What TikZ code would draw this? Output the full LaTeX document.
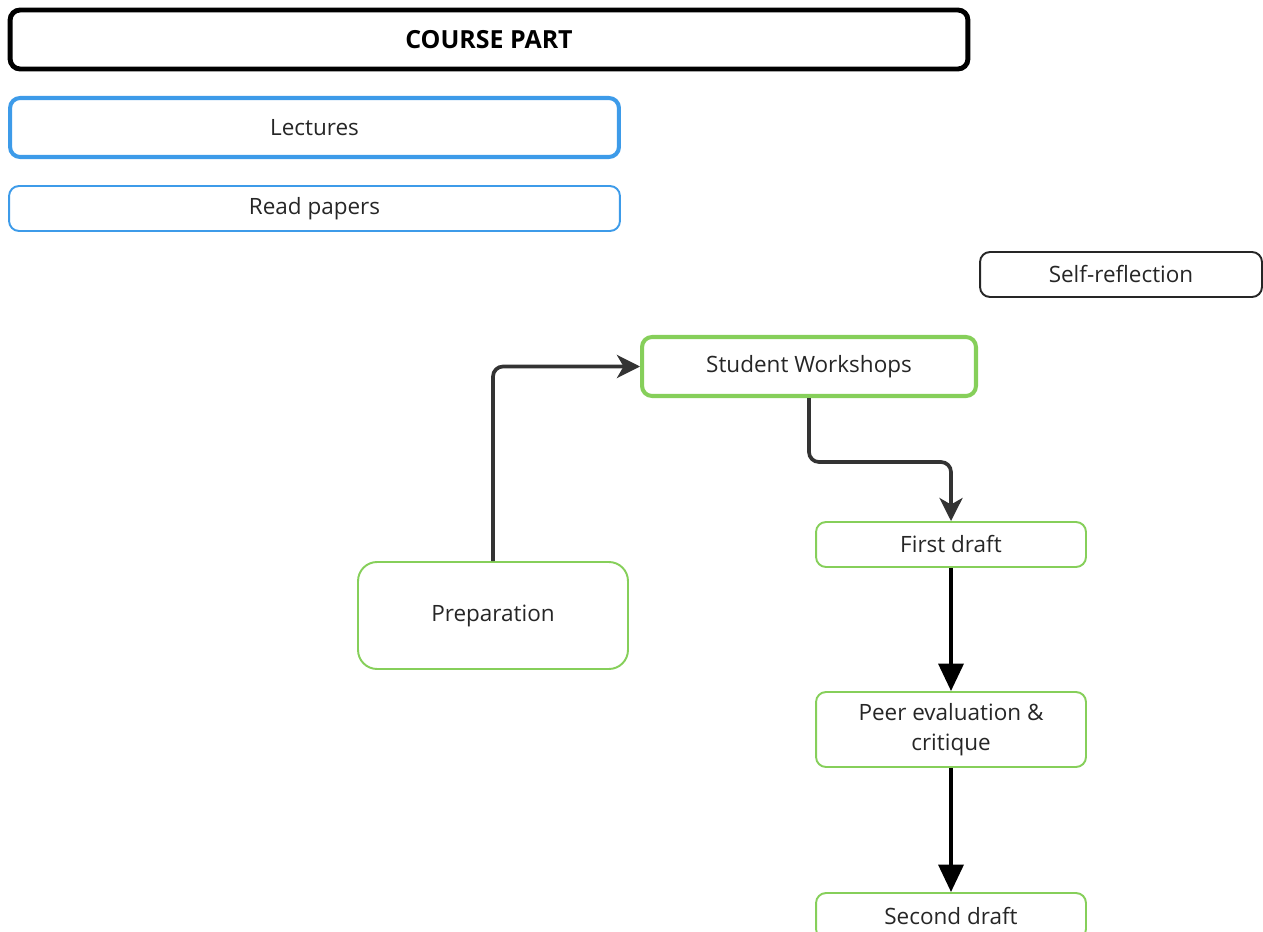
\documentclass[tikz,border=0pt]{standalone}
\usepackage{fontspec}
\setmainfont{Open Sans}
\usepackage{xcolor}
\usepackage{tikz}
\usetikzlibrary{arrows.meta, positioning, calc}
\definecolor{lecblue}{HTML}{3D9BE9}
\definecolor{wsgreen}{HTML}{86CF5A}
\definecolor{arrgray}{HTML}{333333}
\tikzset{
  box/.style={draw, rounded corners=0.2cm, align=center, inner sep=0pt,
    font=\fontsize{12.8}{17}\selectfont, text=black!85},
  thinbox/.style={box, line width=1.1pt},
  thickbox/.style={box, line width=2.3pt},
  grayarrow/.style={draw=arrgray, line width=2.1pt, rounded corners=0.2cm,
    -{Stealth[length=0.46cm, width=0.46cm, inset=0.13cm]}},
  blackarrow/.style={draw=black, line width=2.1pt,
    -{Triangle[length=0.55cm, width=0.5cm]}}
}

\begin{document}
\begin{tikzpicture}[x=0.02cm, y=-0.02cm]
    \useasboundingbox (0,0) rectangle (1263,932);
    \clip (0,0) rectangle (1263,932);

    % Header
    \node[box, line width=2.8pt, minimum width=19.16cm, minimum height=1.18cm,
      font=\fontsize{14.2}{17}\selectfont\bfseries, text=black] (course) at (489,39.5) {COURSE PART};

    % Blue parts
    \node[thickbox, draw=lecblue, minimum width=12.18cm, minimum height=1.18cm] (lectures) at (314.5,127.5) {Lectures};
    \node[thinbox, draw=lecblue, minimum width=12.22cm, minimum height=0.9cm] (papers) at (314.5,208.5) {Read papers};

    \node[thinbox, draw=black!85, minimum width=5.64cm, minimum height=0.9cm] (selfref) at (1121,274.5) {Self-reflection};

    % Workshop flow
    \node[thickbox, draw=wsgreen, minimum width=6.68cm, minimum height=1.18cm] (workshops) at (809,366.5) {Student Workshops};
    \node[thinbox, draw=wsgreen, rounded corners=0.38cm, minimum width=5.4cm, minimum height=2.14cm] (prep) at (493,615.5) {Preparation};
    \node[thinbox, draw=wsgreen, minimum width=5.4cm, minimum height=0.9cm] (first) at (951,544.5) {First draft};
    \node[thinbox, draw=wsgreen, minimum width=5.4cm, minimum height=1.5cm] (peer) at (951,729.5) {Peer evaluation \&\\critique};
    \node[thinbox, draw=wsgreen, minimum width=5.4cm, minimum height=0.92cm] (second) at (951,916) {Second draft};

    % Arrows
    \draw[grayarrow] (prep.north) |- (workshops.west);
    \draw[grayarrow] (workshops.south) -- ++(0,64) -| (first.north);
    \draw[blackarrow] (first.south) -- (peer.north);
    \draw[blackarrow] (peer.south) -- (second.north);
  \end{tikzpicture}
\end{document}
